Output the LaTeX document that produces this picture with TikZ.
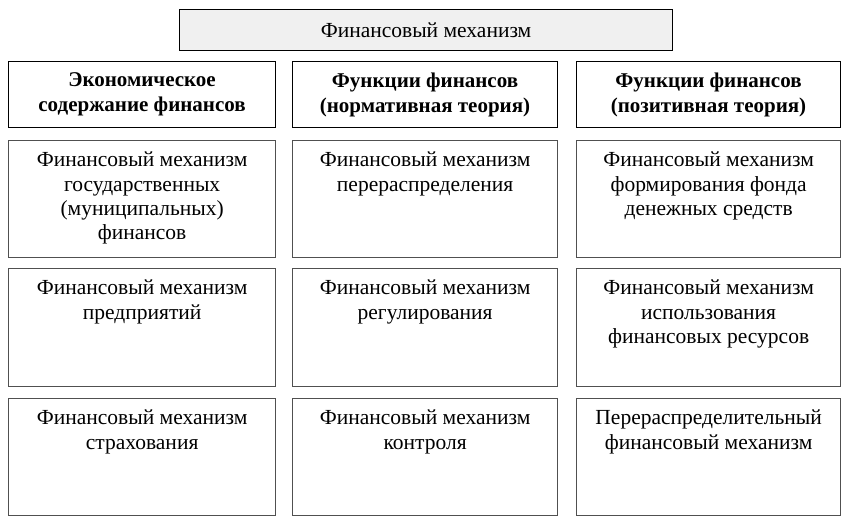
\documentclass[tikz,border=0pt]{standalone}
\usepackage{fontspec}
\setmainfont{Liberation Serif}
\definecolor{topfill}{HTML}{F0F0F0}
\definecolor{boxline}{HTML}{505050}
\tikzset{
  topbox/.style={draw=black, fill=topfill, line width=1.1pt, rectangle, inner sep=0pt, anchor=north west},
  headbox/.style={draw=black, line width=1.1pt, rectangle, inner sep=0pt, anchor=north west, align=center, font=\fontsize{21}{25}\selectfont\bfseries},
  bodybox/.style={draw=boxline, line width=1.3pt, rectangle, inner sep=0pt, anchor=north west},
  bodytext/.style={anchor=north, inner sep=0pt, align=center, font=\fontsize{21.5}{24.3}\selectfont}
}
\begin{document}
\begin{tikzpicture}[x=1pt, y=-1pt]
\useasboundingbox (0,0) rectangle (852,524);
% top
\node[topbox, minimum width=493pt, minimum height=41pt, font=\fontsize{21.5}{24}\selectfont] (top) at (179,9) {Финансовый механизм};
% headers
\node[headbox, minimum width=267pt, minimum height=66pt] (h1) at (8,61) {Экономическое\\содержание финансов};
\node[headbox, minimum width=265pt, minimum height=66pt] (h2) at (292,61) {Функции финансов\\(нормативная теория)};
\node[headbox, minimum width=264pt, minimum height=66pt] (h3) at (576,61) {Функции финансов\\(позитивная теория)};
% row 2
\node[bodybox, minimum width=267pt, minimum height=117pt] (a1) at (8,140) {};
\node[bodybox, minimum width=265pt, minimum height=117pt] (a2) at (292,140) {};
\node[bodybox, minimum width=264pt, minimum height=117pt] (a3) at (576,140) {};
% row 3
\node[bodybox, minimum width=267pt, minimum height=118pt] (b1) at (8,268) {};
\node[bodybox, minimum width=265pt, minimum height=118pt] (b2) at (292,268) {};
\node[bodybox, minimum width=264pt, minimum height=118pt] (b3) at (576,268) {};
% row 4
\node[bodybox, minimum width=267pt, minimum height=117pt] (c1) at (8,398) {};
\node[bodybox, minimum width=265pt, minimum height=117pt] (c2) at (292,398) {};
\node[bodybox, minimum width=264pt, minimum height=117pt] (c3) at (576,398) {};
% texts
\node[bodytext] (ta1) at ([yshift=-12pt]a1.north) {Финансовый механизм\\государственных\\(муниципальных)\\финансов};
\node[bodytext] (ta2) at ([yshift=-12pt]a2.north) {Финансовый механизм\\перераспределения};
\node[bodytext] (ta3) at ([yshift=-12pt]a3.north) {Финансовый механизм\\формирования фонда\\денежных средств};
\node[bodytext] (tb1) at ([yshift=-12pt]b1.north) {Финансовый механизм\\предприятий};
\node[bodytext] (tb2) at ([yshift=-12pt]b2.north) {Финансовый механизм\\регулирования};
\node[bodytext] (tb3) at ([yshift=-12pt]b3.north) {Финансовый механизм\\использования\\финансовых ресурсов};
\node[bodytext] (tc1) at ([yshift=-12pt]c1.north) {Финансовый механизм\\страхования};
\node[bodytext] (tc2) at ([yshift=-12pt]c2.north) {Финансовый механизм\\контроля};
\node[bodytext] (tc3) at ([yshift=-12pt]c3.north) {Перераспределительный\\финансовый механизм};
\end{tikzpicture}
\end{document}
